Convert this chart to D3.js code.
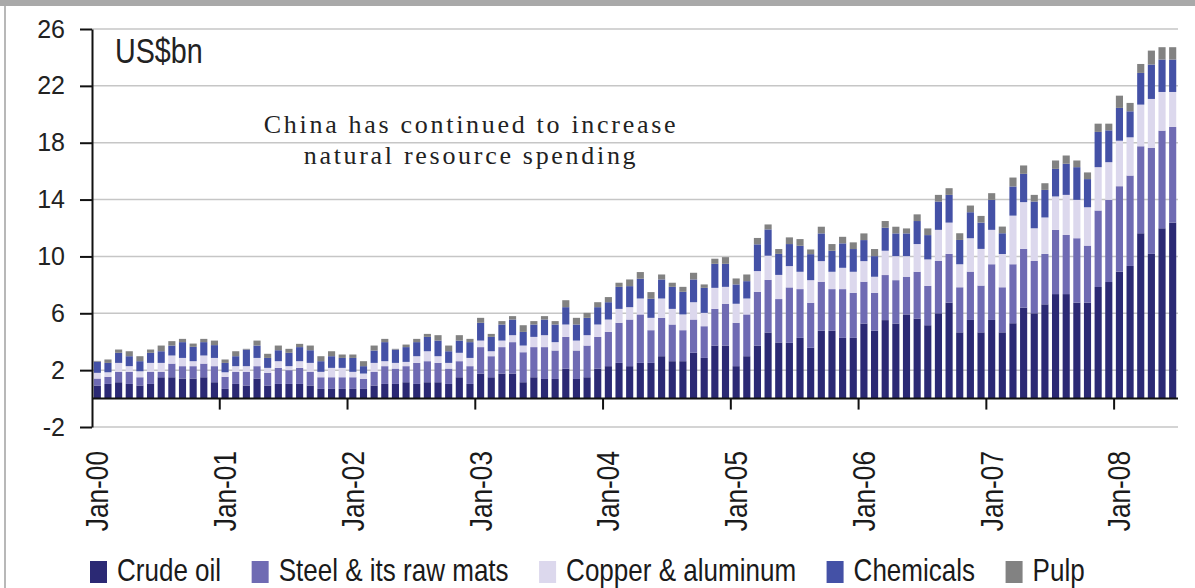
<!DOCTYPE html>
<html><head><meta charset="utf-8">
<script src="https://cdn.jsdelivr.net/npm/d3@7"></script>
<style>
html,body{margin:0;padding:0;background:#fff;}
svg{display:block;}
</style></head>
<body>
<svg id="chart" width="1195" height="588"></svg>
<script>
// ---------- data ----------
const yearCodes = ["00","01","02","03","04","05","06","07","08"];
const monthNames = ["Jan","Feb","Mar","Apr","May","Jun","Jul","Aug","Sep","Oct","Nov","Dec"];
const months = [];
yearCodes.forEach(yc => monthNames.forEach(m => { if (months.length < 102) months.push(m + "-" + yc); }));

const tickLabels = ["Jan-00","Jan-01","Jan-02","Jan-03","Jan-04","Jan-05","Jan-06","Jan-07","Jan-08"];
const yTicks = [-2, 2, 6, 10, 14, 18, 22, 26];

const seriesNames = ["Crude oil", "Steel & its raw mats", "Copper & aluminum", "Chemicals", "Pulp"];

const crude = [
 0.92,1.03,1.15,1.03,0.92,1.03,1.50,1.50,1.41,1.41,1.50,1.15,
 0.68,1.03,0.92,1.41,0.92,1.03,1.03,1.03,0.92,0.68,0.68,0.68,
 0.68,0.68,0.92,1.03,1.03,1.15,1.03,1.15,1.15,1.03,1.50,1.03,
 1.76,1.50,1.76,1.76,1.15,1.50,1.38,1.38,2.11,1.38,1.50,2.11,
 2.28,2.51,2.28,2.51,2.51,2.98,2.63,2.63,3.22,2.86,3.73,3.73,
 2.28,2.98,3.73,4.65,3.95,3.92,4.27,3.57,4.77,4.77,4.27,4.27,
 5.28,4.77,5.52,5.28,5.92,5.63,5.16,6.00,6.75,4.66,5.53,4.66,
 5.53,4.66,5.30,6.40,6.00,6.63,7.35,7.35,6.75,6.75,7.85,8.20,
 8.93,9.33,11.63,10.18,11.98,12.38];
const steel = [
 0.49,0.50,0.73,0.85,0.58,0.85,0.38,0.96,0.87,0.87,0.96,1.13,
 0.85,0.85,0.96,0.87,0.89,1.13,0.97,1.13,0.96,0.82,0.82,0.82,
 0.82,0.70,0.96,1.25,1.08,1.13,1.48,1.48,1.36,1.08,1.13,1.25,
 1.86,1.48,1.86,2.21,2.11,2.12,2.24,2.00,2.23,2.00,2.23,2.23,
 2.41,2.82,3.28,3.41,2.30,2.70,2.58,2.18,2.34,2.23,2.58,2.94,
 3.05,2.94,3.78,3.70,3.05,3.90,3.43,3.17,3.45,2.93,3.43,3.17,
 2.94,2.67,3.17,3.05,2.65,3.29,2.77,3.68,3.43,3.17,3.40,3.29,
 3.92,3.17,4.15,4.13,3.68,3.55,4.52,4.16,4.53,4.01,5.38,5.78,
 6.01,6.36,6.12,7.45,6.87,6.73];
const copper = [
 0.40,0.32,0.63,0.40,0.42,0.63,0.63,0.57,0.58,0.35,0.57,0.58,
 0.32,0.40,0.40,0.58,0.35,0.47,0.28,0.47,0.63,0.38,0.66,0.66,
 0.38,0.38,0.63,0.35,0.40,0.30,0.47,0.70,0.47,0.40,0.59,0.58,
 0.46,0.35,0.46,0.49,0.47,0.72,0.84,0.59,0.87,0.70,0.73,0.87,
 0.87,0.98,0.87,1.12,0.87,1.36,1.10,1.11,1.22,0.94,1.48,1.19,
 1.34,1.12,1.46,1.70,1.70,1.50,1.22,1.59,1.45,1.22,1.50,1.48,
 1.45,1.13,1.71,1.69,1.45,1.95,1.86,2.19,2.20,1.62,2.35,2.58,
 2.42,2.34,3.42,3.29,2.30,2.56,2.35,2.82,2.70,2.70,3.05,2.65,
 3.20,2.69,2.93,3.45,2.72,2.46];
const chemicals = [
 0.79,0.66,0.71,0.70,0.71,0.71,0.82,0.70,1.11,1.01,0.94,0.90,
 0.66,0.70,1.17,0.87,0.70,0.77,0.94,0.99,0.89,0.75,0.82,0.70,
 0.98,0.52,0.87,1.34,0.94,1.04,0.99,1.01,1.10,0.82,0.86,1.11,
 1.25,1.01,1.13,1.10,0.96,0.87,1.10,1.24,1.22,1.13,1.22,1.22,
 1.22,1.55,1.48,1.39,1.34,1.34,1.55,1.59,1.60,1.76,1.69,1.62,
 1.36,1.22,1.88,1.85,1.48,1.55,1.83,1.83,1.95,1.48,1.72,1.60,
 1.48,1.45,1.62,1.60,1.60,1.62,1.71,1.99,1.95,1.71,1.83,1.85,
 2.11,1.46,2.05,1.99,1.88,1.94,1.94,2.19,2.30,1.98,2.48,2.24,
 2.31,1.83,2.23,2.42,2.28,2.28];
const pulp = [
 0.05,0.24,0.23,0.35,0.35,0.23,0.40,0.31,0.23,0.23,0.23,0.32,
 0.24,0.35,0.05,0.35,0.29,0.33,0.28,0.23,0.33,0.35,0.35,0.24,
 0.24,0.35,0.35,0.23,0.05,0.18,0.23,0.21,0.38,0.40,0.38,0.23,
 0.35,0.21,0.24,0.24,0.47,0.24,0.24,0.24,0.49,0.47,0.35,0.35,
 0.36,0.29,0.47,0.47,0.47,0.35,0.29,0.35,0.47,0.24,0.36,0.47,
 0.42,0.47,0.45,0.35,0.34,0.47,0.47,0.33,0.47,0.47,0.46,0.47,
 0.47,0.50,0.47,0.47,0.35,0.47,0.47,0.47,0.47,0.47,0.47,0.47,
 0.47,0.47,0.63,0.59,0.47,0.47,0.59,0.58,0.47,0.47,0.58,0.47,
 0.86,0.59,0.63,0.98,0.87,0.87];

const colors = ["#2b2974", "#6f6bb3", "#dcd8ed", "#4451a6", "#828282"];

// ---------- build ----------
const svg = d3.select("#chart");
const W = 1195, H = 588;
const left = 92, right = 1178;
const NARROW = 0.82;
const SANS = "'Liberation Sans', Arial, sans-serif";

const seriesArrays = [crude, steel, copper, chemicals, pulp];
const rows = months.map((m, i) => {
  const r = { month: m };
  seriesNames.forEach((s, j) => r[s] = seriesArrays[j][i]);
  return r;
});

const x = d3.scaleBand().domain(months).range([left, right]).paddingInner(0.33).paddingOuter(0.165);
const y = d3.scaleLinear().domain([-2, 26]).range([427, 29]);

// frame
svg.append("rect").attr("x", 0).attr("y", 0).attr("width", W).attr("height", 6).attr("fill", "#a9a9a9");
svg.append("line").attr("x1", 5).attr("x2", 5).attr("y1", 6).attr("y2", H)
  .attr("stroke", "#a0a0a0").attr("stroke-width", 1.5);

// gridlines
svg.append("g").selectAll("line").data(yTicks).join("line")
  .attr("x1", left).attr("x2", right)
  .attr("y1", d => y(d)).attr("y2", d => y(d))
  .attr("stroke", "#c6c6c6").attr("stroke-width", 1.5);

// bars
const stacked = d3.stack().keys(seriesNames)(rows);
svg.append("g").selectAll("g").data(stacked).join("g")
  .attr("fill", (d, i) => colors[i])
  .selectAll("rect").data(d => d).join("rect")
  .attr("x", d => x(d.data.month))
  .attr("width", x.bandwidth())
  .attr("y", d => y(d[1]))
  .attr("height", d => y(d[0]) - y(d[1]));

// y axis
const yAxis = d3.axisLeft(y).tickValues(yTicks).tickSize(12).tickSizeOuter(0).tickPadding(15)
  .tickFormat(d => String(d));
const gy = svg.append("g").attr("transform", `translate(${left},0)`).call(yAxis);
gy.select(".domain").attr("stroke", "#111").attr("stroke-width", 2);
gy.selectAll(".tick line").attr("stroke", "#111").attr("stroke-width", 2);
gy.selectAll(".tick text").attr("font-family", SANS).attr("font-size", 25).attr("fill", "#222");

// x axis baseline at 0
svg.append("line").attr("x1", left).attr("x2", right).attr("y1", y(0)).attr("y2", y(0))
  .attr("stroke", "#111").attr("stroke-width", 2);
const gap = (x.step() - x.bandwidth()) / 2;
svg.append("g").selectAll("line").data(tickLabels.slice(1)).join("line")
  .attr("x1", d => x(d) - gap).attr("x2", d => x(d) - gap)
  .attr("y1", y(0)).attr("y2", y(0) + 11)
  .attr("stroke", "#111").attr("stroke-width", 2);

// x tick labels (rotated)
svg.append("g").selectAll("g").data(tickLabels).join("g")
  .attr("transform", d => `translate(${x(d) + x.bandwidth() / 2},451) rotate(-90) scale(${NARROW},1)`)
  .append("text")
  .attr("text-anchor", "end").attr("dominant-baseline", "central")
  .attr("font-family", SANS).attr("font-size", 32).attr("fill", "#1a1a1a")
  .text(d => d);

// unit label
svg.append("g").attr("transform", `translate(115,63) scale(${NARROW},1)`)
  .append("text").attr("font-family", SANS).attr("font-size", 35).attr("fill", "#222")
  .text("US$bn");

// annotation
const note = svg.append("g").attr("font-family", "'Liberation Serif', 'Times New Roman', serif")
  .attr("font-size", 26).attr("fill", "#222").attr("letter-spacing", 2.7).attr("text-anchor", "middle");
note.append("text").attr("x", 471).attr("y", 133).text("China has continued to increase");
note.append("text").attr("x", 471).attr("y", 164).text("natural resource spending");

// legend
let lx = 90;
seriesNames.forEach((name, i) => {
  svg.append("rect").attr("x", lx).attr("y", 561).attr("width", 17).attr("height", 22).attr("fill", colors[i]);
  const g = svg.append("g").attr("transform", `translate(${lx + 27},581) scale(0.84,1)`);
  const t = g.append("text").attr("font-family", SANS).attr("font-size", 31).attr("fill", "#1a1a1a").text(name);
  const w = t.node().getComputedTextLength() * 0.84;
  lx += 27 + w + 30.5;
});
</script>
</body></html>
